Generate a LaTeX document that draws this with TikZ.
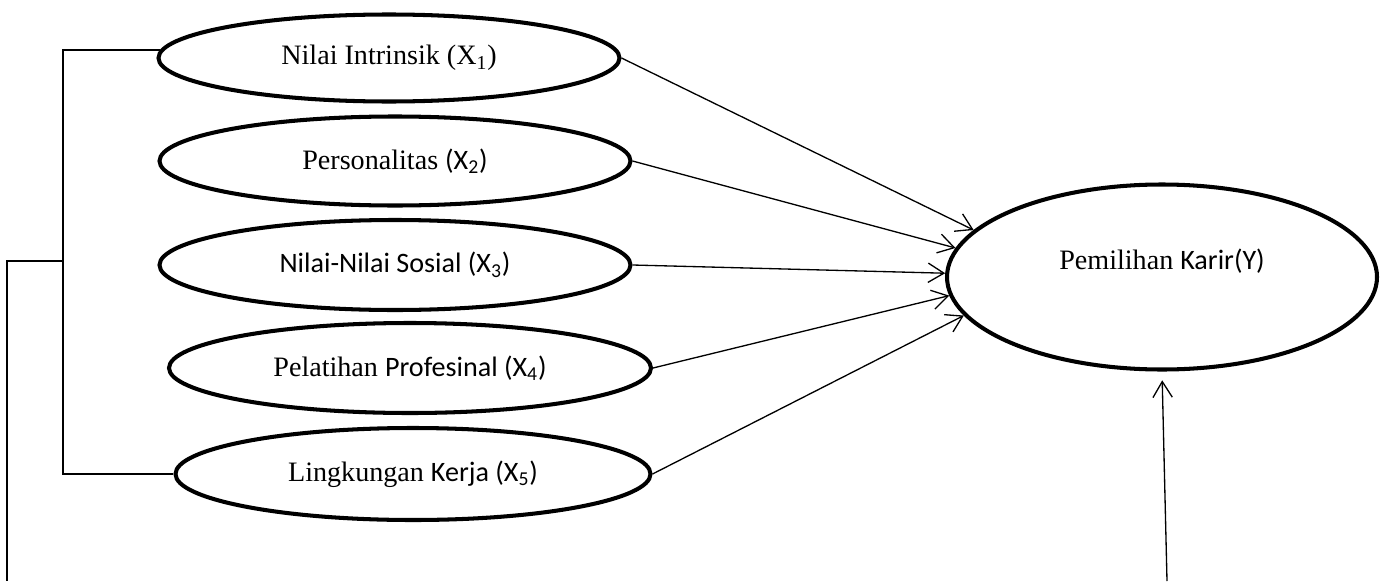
\documentclass[tikz,border=0pt]{standalone}
\usepackage{fontspec}
\setmainfont{Liberation Serif}
\newfontfamily\calibrifont{Carlito}
\usetikzlibrary{shapes.geometric}
\usetikzlibrary{arrows.meta}

\begin{document}
\begin{tikzpicture}[
  var/.style={draw, ellipse, line width=2.3pt, inner sep=0pt, font=\fontsize{16pt}{19pt}\selectfont},
  link/.style={line width=.75pt, ->, >={Straight Barb[length=9pt,width=11pt]}}]
\useasboundingbox (0,0) rectangle (27.74,11.62);
\node[var, minimum width=9.22cm, minimum height=1.74cm] (x1) at (7.78,10.46) {Nilai Intrinsik (X\textsubscript{1})};
\node[var, minimum width=9.42cm, minimum height=1.78cm] (x2) at (7.90,8.40) {Personalitas {\calibrifont (X\textsubscript{2})}};
\node[var, minimum width=9.42cm, minimum height=1.80cm] (x3) at (7.90,6.32) {\calibrifont Nilai-Nilai Sosial (X\textsubscript{3})};
\node[var, minimum width=9.64cm, minimum height=1.80cm] (x4) at (8.20,4.26) {Pelatihan {\calibrifont Profesinal (X\textsubscript{4})}};
\node[var, minimum width=9.50cm, minimum height=1.84cm] (x5) at (8.26,2.14) {Lingkungan {\calibrifont Kerja (X\textsubscript{5})}};
\node[var, minimum width=8.60cm, minimum height=3.70cm, text height=.38cm, text depth=.67cm] (y) at (23.24,6.08) {Pemilihan {\calibrifont Karir(Y)}};
\foreach \v/\a in {x1/166, x2/172, x3/179, x4/185.5, x5/191}
  \draw[link] (\v.east) -- (y.\a);
\coordinate (spine) at (1.26,0);
\coordinate (join) at (1.26,6.40);
\coordinate (low) at (0.14,0);
\coordinate (foot) at (23.34,0);
\draw[line width=.75pt] (x1.178) -| (spine |- x5.west) -- (x5.west);
\draw[line width=.75pt] (join) -| (low);
\draw[link, shorten >=5pt] (foot) -- (y.south);
\end{tikzpicture}
\end{document}
